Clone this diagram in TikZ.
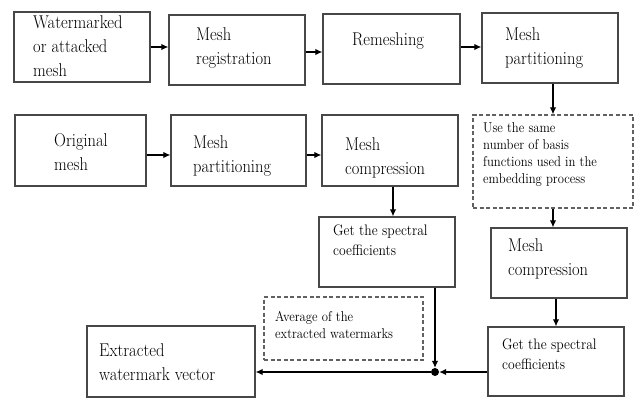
\documentclass[tikz,border=0pt]{standalone}
\usepackage{graphicx}
\usetikzlibrary{arrows.meta,calc}
\newcommand{\stx}[1]{\scalebox{1}[1.12]{\begin{tabular}{@{}l@{}}#1\end{tabular}}}
\begin{document}
\begin{tikzpicture}[x=1pt,y=-1pt,
  box/.style={draw=black!72, line width=1.3pt, rectangle, inner sep=0pt},
  dbox/.style={draw=black!62, line width=1.3pt, dash pattern=on 4pt off 2.5pt, rectangle, inner sep=0pt},
  big/.style={anchor=north west, inner sep=0pt, font=\fontsize{16.5}{21.5}\selectfont},
  small/.style={anchor=north west, inner sep=0pt, font=\fontsize{13.6}{17.8}\selectfont},
  tiny/.style={anchor=north west, inner sep=0pt, font=\fontsize{12.7}{15.2}\selectfont},
  arr/.style={draw=black, line width=1.2pt, -{Latex[length=7pt,width=6.5pt]}}
]
\useasboundingbox (0,0) rectangle (635,400);

% boxes
\node[box, minimum width=136pt, minimum height=70pt] (A) at (82,47) {};
\node[box, minimum width=136pt, minimum height=70pt] (B) at (237,50) {};
\node[box, minimum width=137pt, minimum height=70pt] (C) at (391.5,49) {};
\node[box, minimum width=136pt, minimum height=70pt] (D) at (550,48) {};
\node[box, minimum width=131pt, minimum height=71pt] (E) at (80.5,150.5) {};
\node[box, minimum width=135pt, minimum height=71pt] (F) at (238.5,150.5) {};
\node[box, minimum width=136pt, minimum height=71pt] (G) at (390,150.5) {};
\node[dbox, minimum width=160pt, minimum height=93pt] (H) at (553,161.5) {};
\node[box, minimum width=136pt, minimum height=70pt] (I) at (387,252) {};
\node[box, minimum width=136pt, minimum height=70pt] (K) at (559,263) {};
\node[box, minimum width=136pt, minimum height=69pt] (L) at (556,361.5) {};
\node[dbox, minimum width=159pt, minimum height=63pt] (M) at (343.5,328.5) {};
\node[box, minimum width=168pt, minimum height=71pt] (N) at (171,361.5) {};

% texts (positions: cap top minus strut offset)
\node[big] (tA) at (33,11) {\stx{Watermarked\\or attacked\\mesh}};
\node[big] (tB) at (196,23) {\stx{Mesh\\registration}};
\node[big] (tC) at (352,28) {\stx{Remeshing}};
\node[big] (tD) at (505,23) {\stx{Mesh\\partitioning}};
\node[big] (tE) at (54,129) {\stx{Original\\mesh}};
\node[big] (tF) at (193,131) {\stx{Mesh\\partitioning}};
\node[big] (tG) at (345,133) {\stx{Mesh\\compression}};
\node[tiny] (tH) at (483,120.5) {\stx{Use the same\\number of basis\\functions used in the\\embedding process}};
\node[small] (tI) at (333,221.5) {\stx{Get the spectral\\coefficients}};
\node[big] (tK) at (508,234) {\stx{Mesh\\compression}};
\node[small] (tL) at (502,335.5) {\stx{Get the spectral\\coefficients}};
\node[tiny] (tM) at (275,309.5) {\stx{Average of the\\extracted watermarks}};
\node[big] (tN) at (99,339) {\stx{Extracted\\watermark vector}};

% junction
\node[circle, fill=black, inner sep=0pt, minimum size=8pt] (J) at (435,372) {};

% connectors
\draw[arr] (A.east) -- (A.east -| B.west);
\draw[arr] ([yshift=-2pt]B.east) -- ([yshift=-2pt]B.east -| C.west);
\draw[arr] ([yshift=2pt]C.east) -- ([yshift=2pt]C.east -| D.west);
\draw[arr] ([yshift=-4.5pt]E.east) -- ([yshift=-4.5pt]E.east -| F.west);
\draw[arr] ([yshift=-4.5pt]F.east) -- ([yshift=-4.5pt]F.east -| G.west);
\draw[arr] ([xshift=3pt]D.south) -- ([xshift=3pt]D.south |- H.north);
\draw[arr] (H.south) -- (H.south |- K.north);
\draw[arr] (K.south -| L.north) -- (L.north);
\draw[arr] ([xshift=3pt]G.south) -- ([xshift=3pt]G.south |- I.north);
\draw[arr] (J |- I.south) -- (J.north);
\draw[arr] (L.west |- J) -- (J.east);
\draw[arr] (J.west) -- (J -| N.east);
\end{tikzpicture}
\end{document}
